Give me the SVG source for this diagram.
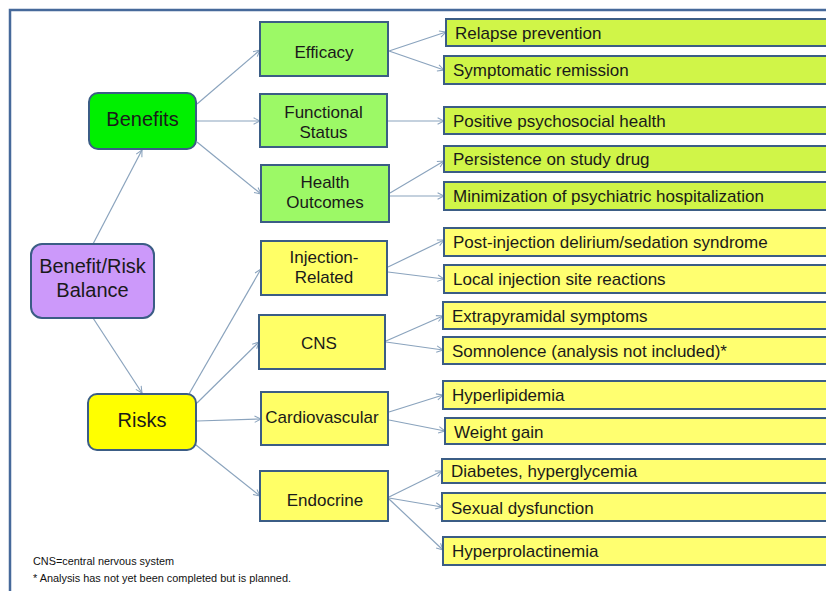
<svg xmlns="http://www.w3.org/2000/svg" width="826" height="591" viewBox="0 0 826 591">
<defs>
<style>
.box{stroke:#3b5d85;stroke-width:2}
.main{font-family:"Liberation Sans",Arial,sans-serif;font-size:20px;fill:#1a1a1a;text-anchor:middle}
.mid{font-family:"Liberation Sans",Arial,sans-serif;font-size:17px;fill:#1a1a1a;text-anchor:middle}
.lst{font-family:"Liberation Sans",Arial,sans-serif;font-size:17px;fill:#1a1a1a}
.note{font-family:"Liberation Sans",Arial,sans-serif;font-size:11px;fill:#111}
.ben{fill:#9cf966}
.benl{fill:#d0f548}
.risk{fill:#ffff66}
.riskl{fill:#ffff70}
#connectors line{stroke:#8aa3bd;stroke-width:1.2;fill:none;marker-end:url(#arr)}
</style>
<marker id="arr" viewBox="0 0 10 10" refX="9" refY="5" markerWidth="8" markerHeight="8" markerUnits="userSpaceOnUse" orient="auto">
<path d="M1,1 L9,5 L1,9" fill="none" stroke="#8aa3bd" stroke-width="1.3"/>
</marker>
</defs>
<rect width="826" height="591" fill="#fff"/>
<path d="M10,600 V10 H830" fill="none" stroke="#46699a" stroke-width="2.5"/>

<g id="connectors">
<line x1="93" y1="244" x2="142" y2="150"/>
<line x1="93" y1="318" x2="142" y2="393"/>
<line x1="197" y1="104" x2="260" y2="50"/>
<line x1="197" y1="121" x2="260" y2="121"/>
<line x1="197" y1="142" x2="261" y2="194"/>
<line x1="389" y1="51" x2="446" y2="32"/>
<line x1="389" y1="51" x2="444" y2="70"/>
<line x1="388" y1="121" x2="444" y2="121"/>
<line x1="390" y1="193" x2="444" y2="161"/>
<line x1="390" y1="196" x2="444" y2="196"/>
<line x1="189" y1="394" x2="261" y2="269"/>
<line x1="197" y1="403" x2="259" y2="342"/>
<line x1="197" y1="421" x2="261" y2="419"/>
<line x1="196" y1="445" x2="260" y2="496"/>
<line x1="388" y1="267" x2="444" y2="240"/>
<line x1="388" y1="272" x2="444" y2="279"/>
<line x1="386" y1="341" x2="443" y2="316"/>
<line x1="386" y1="342" x2="443" y2="350"/>
<line x1="389" y1="412" x2="443" y2="395"/>
<line x1="389" y1="420" x2="445" y2="431"/>
<line x1="389" y1="497" x2="442" y2="471"/>
<line x1="389" y1="498" x2="442" y2="507"/>
<line x1="389" y1="499" x2="443" y2="550"/>
</g>

<g id="balance"><rect class="box" x="31" y="244" width="123" height="74" rx="11" fill="#cc99fa"/><text class="main" x="92.5" y="273">Benefit/Risk</text><text class="main" x="92.5" y="297">Balance</text></g>
<g id="benefits"><rect class="box" x="89" y="93" width="107" height="56" rx="9" fill="#00f000"/><text class="main" x="142.5" y="126">Benefits</text></g>
<g id="risks"><rect class="box" x="88" y="394" width="108" height="56" rx="9" fill="#ffff00"/><text class="main" x="142" y="427">Risks</text></g>

<g id="efficacy"><rect class="box ben" x="260" y="22" width="128" height="54"/><text class="mid" x="324" y="58">Efficacy</text></g>
<g id="functional"><rect class="box ben" x="260" y="94" width="127" height="53"/><text class="mid" x="323.5" y="118">Functional</text><text class="mid" x="323.5" y="138">Status</text></g>
<g id="health"><rect class="box ben" x="261" y="165" width="128" height="57"/><text class="mid" x="325" y="188">Health</text><text class="mid" x="325" y="208">Outcomes</text></g>

<g id="injection"><rect class="box risk" x="261" y="241" width="126" height="54"/><text class="mid" x="324" y="263">Injection-</text><text class="mid" x="324" y="283">Related</text></g>
<g id="cns"><rect class="box risk" x="259" y="315" width="126" height="54"/><text class="mid" x="319" y="349">CNS</text></g>
<g id="cardio"><rect class="box risk" x="261" y="392" width="127" height="53"/><text class="mid" x="322" y="423">Cardiovascular</text></g>
<g id="endocrine"><rect class="box risk" x="260" y="471" width="128" height="50"/><text class="mid" x="325" y="506">Endocrine</text></g>

<g id="relapse"><rect class="box benl" x="446" y="19" width="390" height="27"/><text class="lst" x="455" y="39">Relapse prevention</text></g>
<g id="symptomatic"><rect class="box benl" x="444" y="56" width="392" height="28"/><text class="lst" x="453" y="76">Symptomatic remission</text></g>
<g id="positive"><rect class="box benl" x="444" y="107" width="392" height="27"/><text class="lst" x="453" y="127">Positive psychosocial health</text></g>
<g id="persistence"><rect class="box benl" x="444" y="146" width="392" height="26"/><text class="lst" x="453" y="165">Persistence on study drug</text></g>
<g id="minimization"><rect class="box benl" x="444" y="182" width="392" height="28"/><text class="lst" x="453" y="202">Minimization of psychiatric hospitalization</text></g>

<g id="postinj"><rect class="box riskl" x="444" y="228" width="392" height="28"/><text class="lst" x="453" y="248">Post-injection delirium/sedation syndrome</text></g>
<g id="local"><rect class="box riskl" x="444" y="265" width="392" height="28"/><text class="lst" x="453" y="285">Local injection site reactions</text></g>
<g id="extrapyramidal"><rect class="box riskl" x="443" y="302" width="393" height="27"/><text class="lst" x="452" y="322">Extrapyramidal symptoms</text></g>
<g id="somnolence"><rect class="box riskl" x="443" y="337" width="393" height="27"/><text class="lst" x="452" y="357">Somnolence (analysis not included)*</text></g>
<g id="hyperlipidemia"><rect class="box riskl" x="443" y="381" width="393" height="28"/><text class="lst" x="452" y="401">Hyperlipidemia</text></g>
<g id="weight"><rect class="box riskl" x="445" y="418" width="391" height="26"/><text class="lst" x="454" y="438">Weight gain</text></g>
<g id="diabetes"><rect class="box riskl" x="442" y="459" width="394" height="24"/><text class="lst" x="451" y="477">Diabetes, hyperglycemia</text></g>
<g id="sexual"><rect class="box riskl" x="442" y="493" width="394" height="28"/><text class="lst" x="451" y="514">Sexual dysfunction</text></g>
<g id="hyperprolactinemia"><rect class="box riskl" x="443" y="537" width="393" height="28"/><text class="lst" x="452" y="557">Hyperprolactinemia</text></g>

<text class="note" x="33" y="565" textLength="141" lengthAdjust="spacingAndGlyphs">CNS=central nervous system</text>
<text class="note" x="33" y="582" textLength="258" lengthAdjust="spacingAndGlyphs">* Analysis has not yet been completed but is planned.</text>
</svg>
